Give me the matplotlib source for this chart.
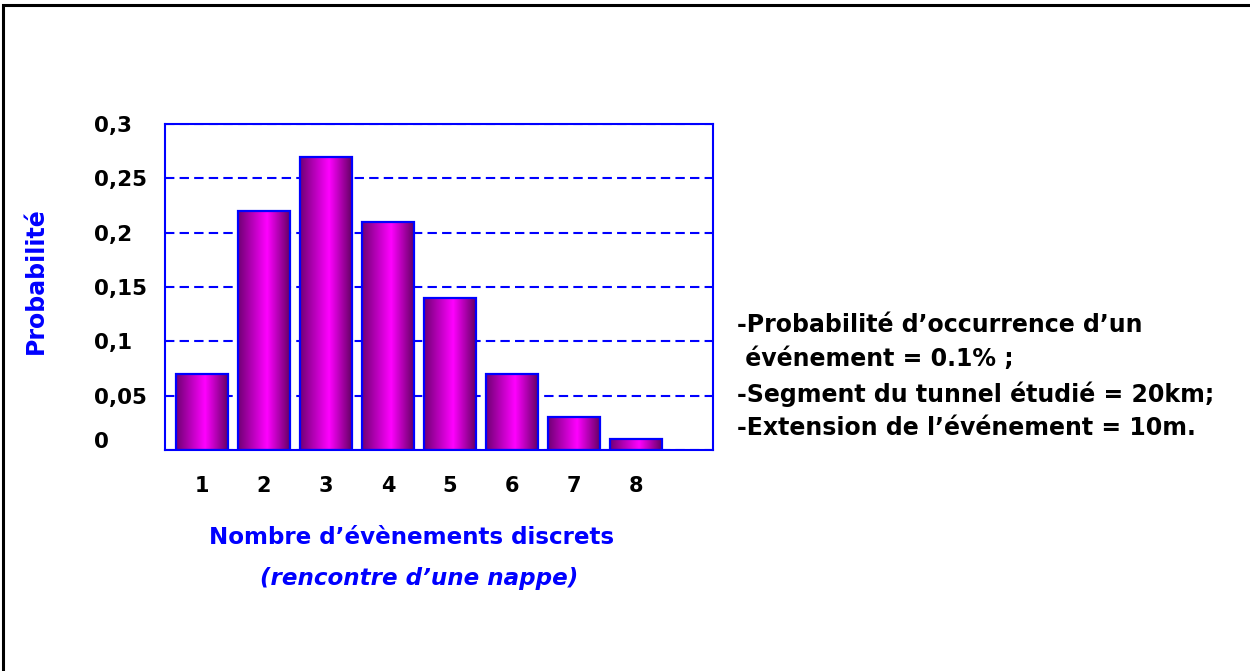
import matplotlib
matplotlib.use("Agg")
import matplotlib.pyplot as plt
import matplotlib.transforms as mtransforms
from matplotlib.colors import LinearSegmentedColormap
from matplotlib.patches import Rectangle
import numpy as np

# ---- data ----
categories = ["1", "2", "3", "4", "5", "6", "7", "8"]
probabilities = [0.07, 0.22, 0.27, 0.21, 0.14, 0.07, 0.03, 0.01]
y_ticks = [0, 0.05, 0.1, 0.15, 0.2, 0.25, 0.3]
y_tick_labels = ["0", "0,05", "0,1", "0,15", "0,2", "0,25", "0,3"]
y_label = "Probabilité"
x_label_1 = "Nombre d’évènements discrets"
x_label_2 = "(rencontre d’une nappe)"
notes = [
    "-Probabilité d’occurrence d’un",
    " événement = 0.1% ;",
    "-Segment du tunnel étudié = 20km;",
    "-Extension de l’événement = 10m.",
]

W, H = 1250, 671
DPI = 100
FONT = "DejaVu Sans"
BLUE = "#0000FF"

fig = plt.figure(figsize=(W / DPI, H / DPI), dpi=DPI)
fig.patch.set_facecolor("white")

def fx(px):
    return px / W

def fy(py):
    return 1 - py / H

ax = fig.add_axes([fx(165), fy(450), fx(713) - fx(165), fy(124) - fy(450)])

x = np.arange(len(categories))
bars = ax.bar(x, probabilities, width=0.84, facecolor="none",
              edgecolor=BLUE, linewidth=1.6, zorder=3)

cmap = LinearSegmentedColormap.from_list(
    "purp", [(0.0, "#700074"), (0.55, "#FF00FF"), (1.0, "#5E005E")])
grad = np.linspace(0, 1, 256).reshape(1, -1)
for b in bars:
    x0, y0 = b.get_x(), b.get_y()
    w, h = b.get_width(), b.get_height()
    im = ax.imshow(grad, cmap=cmap, aspect="auto",
                   extent=[x0, x0 + w, y0, y0 + h], zorder=2,
                   interpolation="bilinear")
    im.set_clip_path(b)

ax.set_xlim(-0.597, 8.24)
ax.set_ylim(0, 0.3)

ax.set_yticks(y_ticks)
ax.set_yticklabels(y_tick_labels)
ax.set_xticks(x)
ax.set_xticklabels(categories)

ax.yaxis.grid(True, color=BLUE, linestyle=(0, (4.5, 2.5)), linewidth=1.5)
ax.set_axisbelow(True)
for s in ax.spines.values():
    s.set_color(BLUE)
    s.set_linewidth(1.5)

ax.tick_params(axis="both", length=0)
ax.tick_params(axis="y", pad=(165 - 94) * 0.72)
ax.tick_params(axis="x", pad=19)
for lab in ax.get_yticklabels():
    lab.set_horizontalalignment("left")
    lab.set_fontfamily(FONT)
    lab.set_fontweight("bold")
    lab.set_fontsize(15.5)
    lab.set_color("black")
for lab in ax.get_xticklabels():
    lab.set_fontfamily(FONT)
    lab.set_fontweight("bold")
    lab.set_fontsize(15)
    lab.set_color("black")
# "0" label sits slightly above the baseline in the reference
zero_lab = ax.get_yticklabels()[0]
zero_lab.set_transform(zero_lab.get_transform() +
                       mtransforms.ScaledTranslation(0, 10 / DPI, fig.dpi_scale_trans))

fig.text(fx(36), fy(281), y_label, rotation=90, ha="center", va="center",
         color=BLUE, fontsize=17, fontweight="bold", fontfamily=FONT)
fig.text(fx(412), fy(537), x_label_1, ha="center", va="center",
         color=BLUE, fontsize=16.6, fontweight="bold", fontfamily=FONT)
fig.text(fx(419), fy(578), x_label_2, ha="center", va="center",
         color=BLUE, fontsize=16.6, fontweight="bold", fontstyle="italic",
         fontfamily=FONT)

line_y = [325, 359, 394, 428]
for txt, yy in zip(notes, line_y):
    fig.text(fx(737), fy(yy), txt, ha="left", va="center", color="black",
             fontsize=17, fontweight="bold", fontfamily=FONT)

# outer frame (left and top edges visible)
fig.patches.append(Rectangle((fx(3), fy(720)), 1.2, fy(5) - fy(720),
                             transform=fig.transFigure, fill=False,
                             edgecolor="black", linewidth=2.2))

fig.savefig("out.png", dpi=DPI, facecolor="white")
